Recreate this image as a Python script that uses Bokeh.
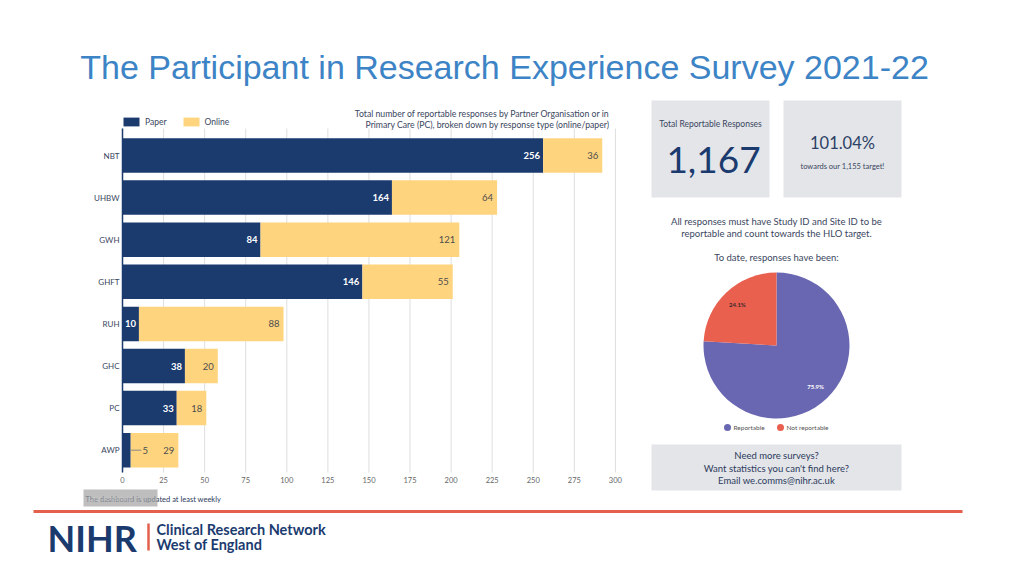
from bokeh.plotting import figure
from bokeh.models import Range1d, Legend, LegendItem, ColumnDataSource
from bokeh.embed import file_html
from bokeh.resources import INLINE
from bokeh.core.properties import value
import math

# ---------------- data ----------------
categories = ["NBT", "UHBW", "GWH", "GHFT", "RUH", "GHC", "PC", "AWP"]
paper = [256, 164, 84, 146, 10, 38, 33, 5]
online = [36, 64, 121, 55, 88, 20, 18, 29]
x_ticks = [0, 25, 50, 75, 100, 125, 150, 175, 200, 225, 250, 275, 300]
series_names = ["Paper", "Online"]
pie_labels = ["Reportable", "Not reportable"]
pie_values = [75.9, 24.1]
total_responses = "1,167"
target_pct = "101.04%"
target_text = "towards our 1,155 target!"

# ---------------- styles / layout ----------------
NAVY = "#1b3b6f"
YELLOW = "#fed47f"
TXT = "#3a4660"
PANEL = "#e3e5e9"
RED = "#e2604c"
PURPLE = "#6a67b2"
PIE_RED = "#e9604f"
FONT = value("Lato")

W, H = 1008, 560
X0, Y0 = 0, 0                        # canvas origin in picture pixels
BAR_LEFT, PX_PER_UNIT = 122, 1.643   # picture x of value 0, pixels per response
ROW0, ROW_STEP = 155, 42.1           # picture y of first category, pixels per category
FRAME_TOP, FRAME_BOTTOM = 128, 472

p = figure(width=W, height=H, x_range=Range1d(X0, X0 + W), y_range=Range1d(-(Y0 + H), -Y0),
           output_backend="svg", toolbar_location=None,
           x_axis_type=None, y_axis_type=None,
           min_border_left=0, min_border_right=0, min_border_top=0, min_border_bottom=0)
p.grid.visible = False
p.outline_line_color = None
p.background_fill_color = "white"
p.extra_x_ranges = {"bars": Range1d(-(BAR_LEFT - X0) / PX_PER_UNIT, (X0 + W - BAR_LEFT) / PX_PER_UNIT)}
p.extra_y_ranges = {"rows": Range1d((Y0 + H - ROW0) / ROW_STEP, (Y0 - ROW0) / ROW_STEP)}

# ---------------- title ----------------
p.text(x=[504], y=[-66], text=["The Participant in Research Experience Survey 2021-22"],
       text_font=value("Liberation Sans"), text_font_size="34px", text_color="#3d84c6",
       text_align="center", text_baseline="middle")

# ---------------- bar chart ----------------
idx = list(range(len(categories)))
totals = [a + b for a, b in zip(paper, online)]
src = ColumnDataSource(dict(row=idx, cat=categories, paper=paper, online=online, total=totals,
                            otxt=[str(v) for v in online]))
big = [i for i, v in enumerate(paper) if v >= 8]
small = [i for i, v in enumerate(paper) if v < 8]
src_big = ColumnDataSource(dict(row=big, paper=[paper[i] for i in big],
                                ptxt=[str(paper[i]) for i in big]))
src_small = ColumnDataSource(dict(row=small, paper=[paper[i] for i in small],
                                  lead=[paper[i] + 6.5 for i in small],
                                  ptxt=[str(paper[i]) for i in small]))

# grid lines & axis line
p.segment(x0=x_ticks, x1=x_ticks, y0=-FRAME_TOP, y1=-FRAME_BOTTOM, x_range_name="bars",
          line_color="#dedede", line_width=1)
r_paper = p.hbar(y="row", left=0, right="paper", height=0.82, fill_color=NAVY, line_color=None,
                 source=src, x_range_name="bars", y_range_name="rows")
r_online = p.hbar(y="row", left="paper", right="total", height=0.82, fill_color=YELLOW,
                  line_color=None, source=src, x_range_name="bars", y_range_name="rows")
p.segment(x0=[0], x1=[0], y0=[-FRAME_TOP], y1=[-FRAME_BOTTOM], x_range_name="bars",
          line_color=NAVY, line_width=1.5)

# tick labels
p.text(x=x_ticks, y=-479, text=[str(t) for t in x_ticks], x_range_name="bars",
       text_font=FONT, text_font_size="7.5px", text_color="#666666",
       text_align="center", text_baseline="middle")
p.text(x=BAR_LEFT - 3, y="row", text="cat", source=src, y_range_name="rows",
       text_font=FONT, text_font_size="8px", text_color=TXT,
       text_align="right", text_baseline="middle")

# value labels
p.text(x="paper", y="row", text="ptxt", source=src_big, x_offset=-3,
       x_range_name="bars", y_range_name="rows",
       text_font=FONT, text_font_style="bold", text_font_size="9.5px", text_color="white",
       text_align="right", text_baseline="middle")
p.segment(x0="paper", x1="lead", y0="row", y1="row", source=src_small,
          x_range_name="bars", y_range_name="rows", line_color="#888888", line_width=1)
p.text(x="lead", y="row", text="ptxt", source=src_small, x_offset=1,
       x_range_name="bars", y_range_name="rows",
       text_font=FONT, text_font_size="9.5px", text_color="#4d4d4d",
       text_align="left", text_baseline="middle")
p.text(x="total", y="row", text="otxt", source=src, x_offset=-4,
       x_range_name="bars", y_range_name="rows",
       text_font=FONT, text_font_size="9.5px", text_color="#4d4d4d",
       text_align="right", text_baseline="middle")

legend = Legend(items=[LegendItem(label=series_names[0], renderers=[r_paper]),
                       LegendItem(label=series_names[1], renderers=[r_online])],
                orientation="horizontal", location=(BAR_LEFT - X0 - 1, Y0 + H - 127),
                padding=0, margin=0, spacing=14, glyph_width=20, glyph_height=11,
                label_height=11, label_standoff=4, label_text_font="Lato",
                label_text_font_size="8.5px", label_text_color=TXT,
                border_line_color=None, background_fill_alpha=0)
p.add_layout(legend)

p.text(x=[609, 609], y=[-113, -124],
       text=["Total number of reportable responses by Partner Organisation or in",
             "Primary Care (PC), broken down by response type (online/paper)"],
       text_font=FONT, text_font_size="8.7px", text_color=TXT,
       text_align="right", text_baseline="middle")

# refresh note with grey tooltip box on top
p.text(x=[85], y=[-499], text=["The dashboard is updated at least weekly"],
       text_font=FONT, text_font_size="7.5px", text_color="#2c3a5c",
       text_align="left", text_baseline="middle")
p.quad(left=[83], right=[157], top=[-489], bottom=[-506], fill_color="#a3a3a3",
       fill_alpha=0.7, line_color=None)
p.text(x=[88], y=[-497], text=["Last refreshed"], text_font=FONT, text_font_size="7px",
       text_color="#d0d0d0", text_alpha=0.5, text_align="left", text_baseline="middle")

# ---------------- right panel ----------------
p.quad(left=[651, 783, 651], right=[769, 901, 901], top=[-100, -100, -444],
       bottom=[-197, -197, -490], fill_color=PANEL, line_color=None)
p.text(x=[710], y=[-123], text=["Total Reportable Responses"], text_font=FONT,
       text_font_size="8.5px", text_color=TXT, text_align="center", text_baseline="middle")
p.text(x=[713], y=[-159], text=[total_responses], text_font=FONT,
       text_font_size="37px", text_color=NAVY, text_align="center", text_baseline="middle")
p.text(x=[842], y=[-142], text=[target_pct], text_font=FONT,
       text_font_size="16.5px", text_color="#2c3f66", text_align="center", text_baseline="middle")
p.text(x=[842], y=[-166], text=[target_text], text_font=FONT,
       text_font_size="7.5px", text_color=TXT, text_align="center", text_baseline="middle")
p.text(x=[776, 776, 776], y=[-221, -233, -257],
       text=["All responses must have Study ID and Site ID to be",
             "reportable and count towards the HLO target.",
             "To date, responses have been:"],
       text_font=FONT, text_font_size="9.5px", text_color=TXT,
       text_align="center", text_baseline="middle")

# pie (clockwise from 12 o'clock)
cx, cy, R = 776, -345, 73
tot = sum(pie_values)
starts, ends, mids = [], [], []
a = math.pi / 2
for v in pie_values:
    b = a - 2 * math.pi * v / tot
    starts.append(a)
    ends.append(b)
    mids.append((a + b) / 2)
    a = b
pie_src = ColumnDataSource(dict(start=starts, end=ends, color=[PURPLE, PIE_RED]))
p.wedge(x=cx, y=cy, radius=R, start_angle="end", end_angle="start",
        fill_color="color", line_color=None, source=pie_src)
p.text(x=[cx + 0.78 * R * math.cos(m) for m in mids],
       y=[cy + 0.78 * R * math.sin(m) for m in mids],
       text=[f"{v}%" for v in pie_values], text_color=["white", "#3a2a2a"],
       text_font=FONT, text_font_size="6px", text_font_style="bold",
       text_align="center", text_baseline="middle")
p.scatter(x=[727, 780], y=[-427, -427], size=7, fill_color=[PURPLE, PIE_RED], line_color=None)
p.text(x=[733, 786], y=[-427, -427], text=pie_labels, text_font=FONT,
       text_font_size="6.5px", text_color="#555555", text_align="left", text_baseline="middle")
p.text(x=[776, 776, 776], y=[-455, -468, -480],
       text=["Need more surveys?", "Want statistics you can't find here?",
             "Email we.comms@nihr.ac.uk"],
       text_font=FONT, text_font_size="9.5px", text_color="#2c3a5c",
       text_align="center", text_baseline="middle")

# ---------------- footer ----------------
p.segment(x0=[33], x1=[962], y0=[-511], y1=[-511], line_color=RED, line_width=3)
p.text(x=[47], y=[-537], text=["NIHR"], text_font=FONT, text_font_style="bold",
       text_font_size="36px", text_color=NAVY, text_align="left", text_baseline="middle")
p.segment(x0=[148], x1=[148], y0=[-523], y1=[-550], line_color=RED, line_width=2.5)
p.text(x=[156, 156], y=[-529, -544], text=["Clinical Research Network", "West of England"],
       text_font=FONT, text_font_style="bold", text_font_size="14.5px", text_color=NAVY,
       text_align="left", text_baseline="middle")

open("out.html", "w").write(file_html(p, INLINE))
